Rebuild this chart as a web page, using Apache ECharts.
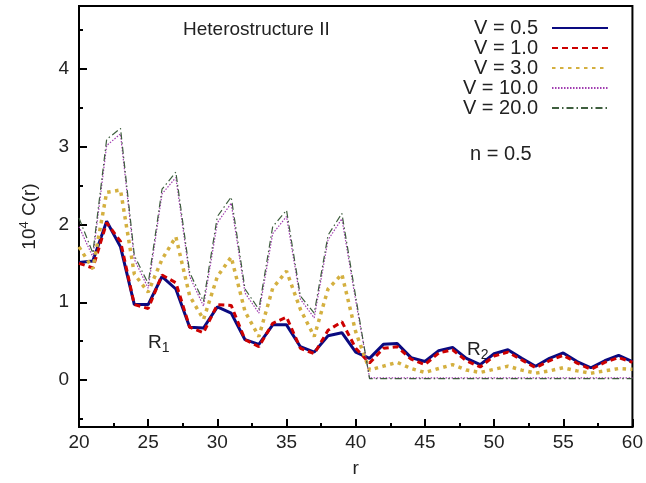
<!DOCTYPE html>
<html>
<head>
<meta charset="utf-8">
<script src="https://cdn.jsdelivr.net/npm/echarts@6/dist/echarts.min.js"></script>
<style>
  html, body { margin: 0; padding: 0; background: #fff; }
  #main { width: 646px; height: 483px; }
</style>
</head>
<body>
<div id="main"></div>
<script>
// r = 20 .. 60
var rValues = [20,21,22,23,24,25,26,27,28,29,30,31,32,33,34,35,36,37,38,39,40,41,42,43,44,45,46,47,48,49,50,51,52,53,54,55,56,57,58,59,60];

var v05 = [1.51,1.53,2.04,1.71,0.97,0.97,1.33,1.17,0.68,0.67,0.94,0.86,0.52,0.46,0.71,0.71,0.43,0.36,0.57,0.61,0.36,
           0.28,0.46,0.47,0.29,0.24,0.38,0.42,0.28,0.20,0.34,0.39,0.28,0.18,0.28,0.35,0.24,0.16,0.25,0.32,0.24];
var v10 = [1.50,1.44,2.02,1.78,0.97,0.92,1.35,1.25,0.68,0.61,0.97,0.96,0.52,0.43,0.73,0.81,0.41,0.34,0.64,0.75,0.41,
           0.22,0.41,0.43,0.27,0.20,0.35,0.39,0.25,0.17,0.31,0.36,0.26,0.16,0.25,0.32,0.22,0.14,0.23,0.29,0.23];
var v30 = [1.71,1.43,2.41,2.44,1.36,1.13,1.55,1.84,1.08,0.78,1.33,1.58,0.88,0.56,1.18,1.40,0.91,0.56,1.17,1.36,0.62,
           0.13,0.18,0.23,0.15,0.10,0.15,0.20,0.13,0.10,0.14,0.18,0.13,0.09,0.12,0.16,0.12,0.09,0.12,0.15,0.14];
var v100 = [1.97,1.58,3.01,3.16,1.55,1.18,2.39,2.60,1.33,0.95,2.02,2.27,1.12,0.86,1.88,2.10,1.04,0.80,1.80,2.07,1.02,
            0.03,0.03,0.03,0.03,0.03,0.03,0.03,0.03,0.03,0.03,0.03,0.03,0.03,0.03,0.03,0.03,0.03,0.03,0.03,0.03];
var v200 = [2.08,1.63,3.09,3.23,1.60,1.24,2.45,2.67,1.38,1.01,2.10,2.35,1.17,0.91,1.97,2.18,1.08,0.86,1.86,2.14,1.07,
            0.02,0.02,0.02,0.02,0.02,0.02,0.02,0.02,0.02,0.02,0.02,0.02,0.02,0.02,0.02,0.02,0.02,0.02,0.02,0.02];

var seriesNames = ['V = 0.5', 'V = 1.0', 'V = 3.0', 'V = 10.0', 'V = 20.0'];
var yMajor = [0, 1, 2, 3, 4];
var yMinor = [-0.5, 0.5, 1.5, 2.5, 3.5, 4.5];

function pairs(vals) {
  return rValues.map(function (r, i) { return [r, vals[i]]; });
}

var font = 'Liberation Sans, Arial, Helvetica, sans-serif';
var txt = '#222';

var chart = echarts.init(document.getElementById('main'));
chart.setOption({
  animation: false,
  backgroundColor: '#fff',
  textStyle: { fontFamily: font },
  grid: {
    left: 79, right: 12, top: 6, bottom: 50,
    show: true, borderColor: '#000', borderWidth: 2
  },
  legend: {
    orient: 'vertical',
    align: 'right',
    right: 37,
    top: 18,
    padding: 0,
    itemWidth: 56,
    itemHeight: 14,
    itemGap: 0,
    itemStyle: { opacity: 0 },
    textStyle: { fontSize: 20, lineHeight: 14, color: txt, fontFamily: font, padding: [0, 9, 0, 0] },
    data: seriesNames
  },
  xAxis: {
    type: 'value',
    min: 20, max: 60, interval: 5,
    name: 'r',
    nameLocation: 'middle',
    nameGap: 32,
    nameTextStyle: { fontSize: 19, color: txt, fontFamily: font },
    axisLine: { onZero: false, lineStyle: { color: '#000', width: 2 } },
    axisTick: { inside: true, length: 8, lineStyle: { color: '#000', width: 2 } },
    minorTick: { show: true, splitNumber: 2, length: 4, lineStyle: { color: '#000', width: 2 } },
    axisLabel: { fontSize: 19, color: txt, margin: 6, fontFamily: font },
    splitLine: { show: false }
  },
  yAxis: [{
    type: 'value',
    min: -0.6, max: 4.8,
    name: '10{sup|4} C(r)',
    nameLocation: 'middle',
    nameGap: 37,
    nameRotate: 90,
    nameTextStyle: {
      fontSize: 19, color: txt, fontFamily: font, lineHeight: 24,
      rich: { sup: { fontSize: 13, lineHeight: 12, verticalAlign: 'top', color: txt, fontFamily: font } }
    },
    axisLine: { lineStyle: { color: '#000', width: 2 } },
    axisTick: { inside: true, length: 8, customValues: yMajor, lineStyle: { color: '#000', width: 2 } },
    axisLabel: { fontSize: 19, color: txt, margin: 10, customValues: yMajor, fontFamily: font },
    splitLine: { show: false }
  }, {
    type: 'value',
    position: 'left',
    min: -0.6, max: 4.8,
    axisLine: { show: false },
    axisTick: { inside: true, length: 4, customValues: yMinor, lineStyle: { color: '#000', width: 2 } },
    axisLabel: { show: false },
    splitLine: { show: false }
  }],
  series: [
    { name: seriesNames[0], type: 'line', symbol: 'none', data: pairs(v05),
      lineStyle: { color: '#0a0a80', width: 3 }, itemStyle: { color: '#0a0a80' } },
    { name: seriesNames[1], type: 'line', symbol: 'none', data: pairs(v10),
      lineStyle: { color: '#cc0000', width: 3, type: [6, 4] }, itemStyle: { color: '#cc0000' } },
    { name: seriesNames[2], type: 'line', symbol: 'none', data: pairs(v30),
      lineStyle: { color: '#d4b040', width: 3.5, type: [3.5, 4.5] }, itemStyle: { color: '#d4b040' } },
    { name: seriesNames[3], type: 'line', symbol: 'none', data: pairs(v100),
      lineStyle: { color: '#a03cb0', width: 1.2, type: [1.5, 1.5] }, itemStyle: { color: '#a03cb0' } },
    { name: seriesNames[4], type: 'line', symbol: 'none', data: pairs(v200),
      lineStyle: { color: '#3e5e3e', width: 1.2, type: [7, 3, 1.5, 3] }, itemStyle: { color: '#3e5e3e' } }
  ],
  graphic: [
    { type: 'text', left: 183, top: 20,
      style: { text: 'Heterostructure II', font: '19px ' + font, fill: txt } },
    { type: 'text', left: 470, top: 144,
      style: { text: 'n = 0.5', font: '20px ' + font, fill: txt } },
    { type: 'text', left: 148, top: 331,
      style: { text: 'R{sub|1}', font: '19px ' + font, fill: txt, lineHeight: 24,
        rich: { sub: { fontSize: 14, lineHeight: 12, verticalAlign: 'bottom', fill: txt, fontFamily: font } } } },
    { type: 'text', left: 467, top: 338,
      style: { text: 'R{sub|2}', font: '19px ' + font, fill: txt, lineHeight: 24,
        rich: { sub: { fontSize: 14, lineHeight: 12, verticalAlign: 'bottom', fill: txt, fontFamily: font } } } }
  ]
});
</script>
</body>
</html>
